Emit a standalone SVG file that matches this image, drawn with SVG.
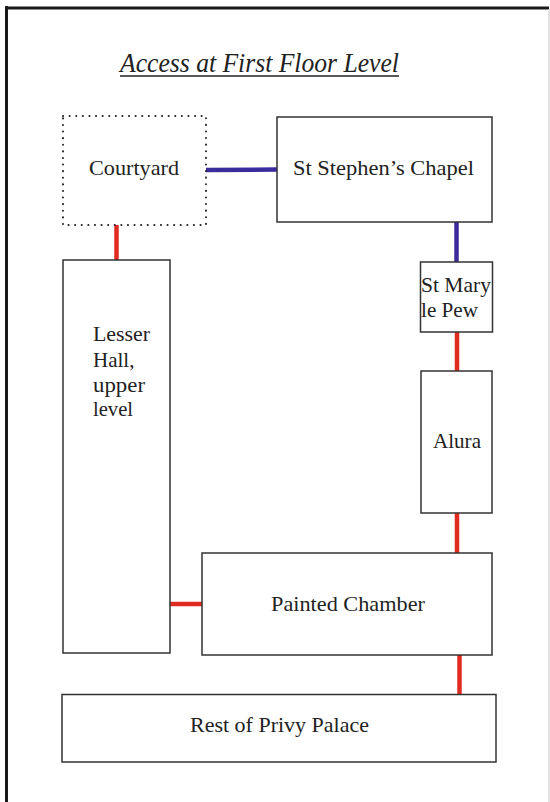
<svg xmlns="http://www.w3.org/2000/svg" width="550" height="802" viewBox="0 0 550 802">
<style>
.box{fill:#fff;stroke:#333;stroke-width:1.5}
.dot{fill:none;stroke:#222;stroke-width:2;stroke-dasharray:0.1 6.5;stroke-linecap:round}
.t{font-family:"Liberation Serif",serif;font-size:21px;fill:#222}
.red{stroke:#e02b20;stroke-width:4.5}
.blue{stroke:#3b2b9c;stroke-width:4.5}
</style>
<rect width="550" height="802" fill="#fff"/>
<g id="frame">
<line x1="6.5" y1="6" x2="6.5" y2="802" stroke="#1a1a1a" stroke-width="3"/>
<line x1="5" y1="8" x2="549" y2="8" stroke="#1a1a1a" stroke-width="3"/>
<line x1="549" y1="9" x2="549" y2="802" stroke="#d8d8d8" stroke-width="1.5"/>
</g>
<g id="title">
<text x="120" y="72" font-family="Liberation Serif,serif" font-style="italic" font-size="27" fill="#222" textLength="279" lengthAdjust="spacingAndGlyphs">Access at First Floor Level</text>
<line x1="120" y1="76" x2="399" y2="76" stroke="#222" stroke-width="1.5"/>
</g>
<g id="connectors">
<line class="blue" x1="206" y1="170" x2="277" y2="169.5"/>
<line class="blue" x1="456.5" y1="222" x2="456.5" y2="262"/>
<line class="red" x1="116.5" y1="225" x2="116.5" y2="260"/>
<line class="red" x1="457" y1="332" x2="457" y2="371"/>
<line class="red" x1="457" y1="513" x2="457" y2="553"/>
<line class="red" x1="170" y1="604" x2="202" y2="604"/>
<line class="red" x1="459.5" y1="655" x2="459.5" y2="695"/>
</g>
<g id="courtyard">
<rect class="dot" x="63" y="116" width="143" height="109"/>
<text class="t" x="89" y="175" textLength="90" lengthAdjust="spacingAndGlyphs">Courtyard</text>
</g>
<g id="chapel">
<rect class="box" x="277" y="117" width="215" height="105"/>
<text class="t" x="293" y="175" textLength="181" lengthAdjust="spacingAndGlyphs">St  Stephen’s Chapel</text>
</g>
<g id="pew">
<rect class="box" x="420.5" y="262" width="72" height="70"/>
<text class="t" x="421" y="292" textLength="70" lengthAdjust="spacingAndGlyphs">St Mary</text>
<text class="t" x="421" y="317" textLength="57" lengthAdjust="spacingAndGlyphs">le Pew</text>
</g>
<g id="alura">
<rect class="box" x="421" y="371" width="71" height="142"/>
<text class="t" x="433" y="448" textLength="48" lengthAdjust="spacingAndGlyphs">Alura</text>
</g>
<g id="lesser-hall">
<rect class="box" x="63" y="260" width="107" height="393"/>
<text class="t" x="93" y="341" textLength="57" lengthAdjust="spacingAndGlyphs">Lesser</text>
<text class="t" x="93" y="367">Hall,</text>
<text class="t" x="93" y="392" textLength="52" lengthAdjust="spacingAndGlyphs">upper</text>
<text class="t" x="93" y="416" textLength="40" lengthAdjust="spacingAndGlyphs">level</text>
</g>
<g id="painted-chamber">
<rect class="box" x="202" y="553" width="290" height="102"/>
<text class="t" x="271" y="611" textLength="154" lengthAdjust="spacingAndGlyphs">Painted Chamber</text>
</g>
<g id="privy-palace">
<rect class="box" x="62" y="694.5" width="434" height="67.5"/>
<text class="t" x="190" y="732" textLength="179" lengthAdjust="spacingAndGlyphs">Rest of  Privy Palace</text>
</g>
</svg>
